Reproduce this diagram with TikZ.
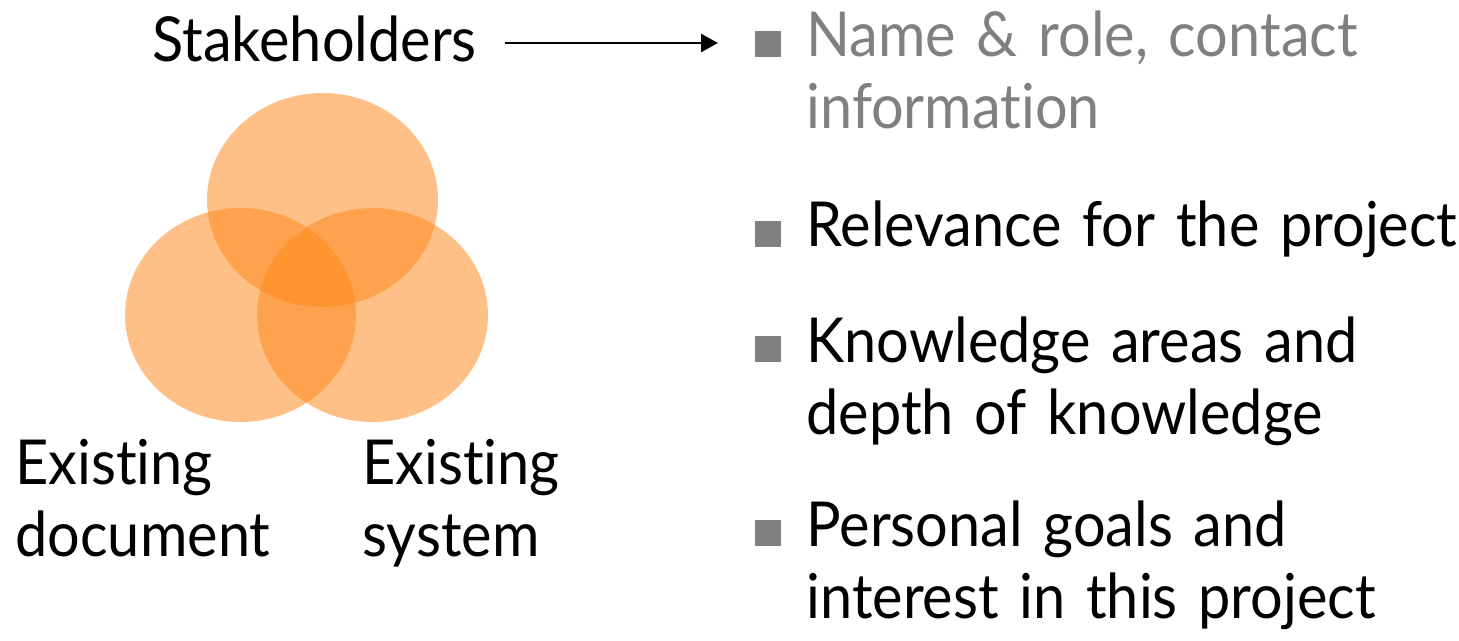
\documentclass[tikz,border=0pt]{standalone}
\usepackage{fontspec}
\setmainfont[FakeStretch=0.93,Ligatures=NoCommon]{Lato}
\usepackage{xcolor}
\usetikzlibrary{arrows.meta,shapes.geometric}

\definecolor{vennorange}{RGB}{255,135,24}
\definecolor{bulletgray}{RGB}{128,128,128}

\begin{document}
\begin{tikzpicture}[x=0.5pt,y=-0.5pt,
		venn/.style={ellipse,fill=vennorange,fill opacity=0.52,draw=none,
			minimum width=115.5pt,minimum height=107pt,inner sep=0pt},
		label/.style={anchor=base west,inner sep=0pt,align=left,
			font=\fontsize{31}{36}\selectfont},
		item/.style={label,text width=330pt},
		bulletbox/.style={fill=bulletgray,minimum size=13pt,inner sep=0pt,anchor=south west},
		pointer/.style={line width=1.3pt,-{Triangle[length=8.5pt,width=9pt]}},
	]
		\useasboundingbox (0,0) rectangle (1459,641);
		% the three sources
		\node[venn] (top) at (322.5,200) {};
		\node[venn] (left) at (240.5,315) {};
		\node[venn] (right) at (372.5,315) {};
		\node[label] (stake) at (152,62) {Stakeholders};
		\node[item,text width=160pt] (doc) at (15,484) {Existing\\document};
		\node[item,text width=160pt] (sys) at (362,484) {Existing\\system};
		% arrow to the list
		\coordinate (tail) at (505,43);
		\coordinate (tip) at (718,43);
		\draw[pointer] (tail) -- (tip);
		% list of what to record
		\node[bulletbox] (b1) at (755,57) {};
		\node[item,text=bulletgray] (i1) at (806,57) {Name \& role, contact\\information};
		\node[bulletbox] (b2) at (755,247) {};
		\node[item] (i2) at (806,247) {Relevance for the project};
		\node[bulletbox] (b3) at (755,362) {};
		\node[item] (i3) at (806,362) {Knowledge areas and\\depth of knowledge};
		\node[bulletbox] (b4) at (755,546) {};
		\node[item] (i4) at (806,546) {Personal goals and\\interest in this project};
	\end{tikzpicture}
\end{document}
